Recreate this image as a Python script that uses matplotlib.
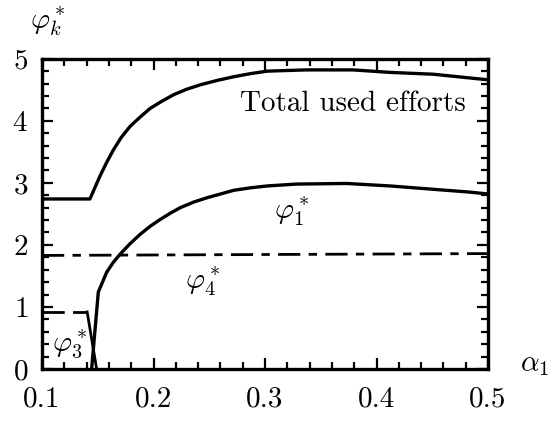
import matplotlib
matplotlib.use('Agg')
import matplotlib.pyplot as plt
from matplotlib.ticker import MultipleLocator, FormatStrFormatter

plt.rcParams['font.family'] = 'serif'
plt.rcParams['font.serif'] = ['cmr10']
plt.rcParams['mathtext.fontset'] = 'cm'
plt.rcParams['axes.formatter.use_mathtext'] = True

# values
total_x = [0.10, 0.143, 0.152, 0.158, 0.164, 0.171, 0.179, 0.188, 0.197, 0.207,
           0.218, 0.230, 0.242, 0.257, 0.272, 0.287, 0.302, 0.337, 0.379,
           0.412, 0.451, 0.50]
total_y = [2.74, 2.74, 3.11, 3.33, 3.53, 3.73, 3.91, 4.06, 4.20, 4.31,
           4.42, 4.51, 4.58, 4.65, 4.71, 4.76, 4.80, 4.82, 4.82,
           4.78, 4.75, 4.66]

phi1_x = [0.1445, 0.1505, 0.158, 0.164, 0.170, 0.179, 0.188, 0.197, 0.206,
          0.215, 0.224, 0.236, 0.248, 0.260, 0.272, 0.287, 0.302, 0.328,
          0.373, 0.412, 0.448, 0.484, 0.50]
phi1_y = [0.0, 1.24, 1.56, 1.72, 1.85, 2.02, 2.17, 2.30, 2.41,
          2.51, 2.60, 2.69, 2.76, 2.82, 2.88, 2.92, 2.95, 2.98,
          2.99, 2.95, 2.90, 2.85, 2.82]

phi3_x = [0.10, 0.1405, 0.149]
phi3_y = [0.92, 0.92, 0.0]

phi4_x = [0.10, 0.50]
phi4_y = [1.83, 1.86]

x_ticks = [0.1, 0.2, 0.3, 0.4, 0.5]
y_ticks = [0, 1, 2, 3, 4, 5]

fs = 21

fig = plt.figure(figsize=(5.49, 4.21), dpi=100)
ax = fig.add_axes([0.0765, 0.1235, 0.8125, 0.737])

ax.plot(total_x, total_y, color='black', lw=2.4)
ax.plot(phi1_x, phi1_y, color='black', lw=2.4)
# phi3: dashed level, then a sharp drop to zero
ax.plot(phi3_x[:2], phi3_y[:2], color='black', lw=2.0, dashes=(8, 3))
ax.plot(phi3_x[1:], phi3_y[1:], color='black', lw=2.0)
ax.plot(phi4_x, phi4_y, color='black', lw=2.0, dashes=(8, 3, 3, 3))

ax.set_xlim(0.1, 0.5)
ax.set_ylim(0, 5)
ax.set_xticks(x_ticks)
ax.set_yticks(y_ticks)
ax.xaxis.set_major_formatter(FormatStrFormatter('%.1f'))
ax.xaxis.set_minor_locator(MultipleLocator(0.02))
ax.yaxis.set_minor_locator(MultipleLocator(0.2))

ax.tick_params(which='both', direction='in', top=True, right=True,
               width=1.6, labelsize=fs)
ax.tick_params(which='major', length=8)
ax.tick_params(which='minor', length=5)
ax.tick_params(axis='x', pad=12)
ax.tick_params(axis='y', pad=10)
for s in ax.spines.values():
    s.set_linewidth(2.4)

# curve labels
ax.text(0.379, 4.28, 'Total used efforts', fontsize=fs, ha='center', va='center')
ax.text(0.324, 2.54, r'$\varphi_1^*$', fontsize=fs, ha='center', va='center')
ax.text(0.244, 1.41, r'$\varphi_4^*$', fontsize=fs, ha='center', va='center')
ax.text(0.125, 0.38, r'$\varphi_3^*$', fontsize=fs, ha='center', va='center')

# axis names
ax.text(0.013, 1.12, r'$\varphi_k^*$', fontsize=fs, ha='center', va='center',
        transform=ax.transAxes)
ax.text(1.105, 0.013, r'$\alpha_1$', fontsize=fs, ha='center', va='center',
        transform=ax.transAxes)

fig.savefig('out.png', dpi=100)
